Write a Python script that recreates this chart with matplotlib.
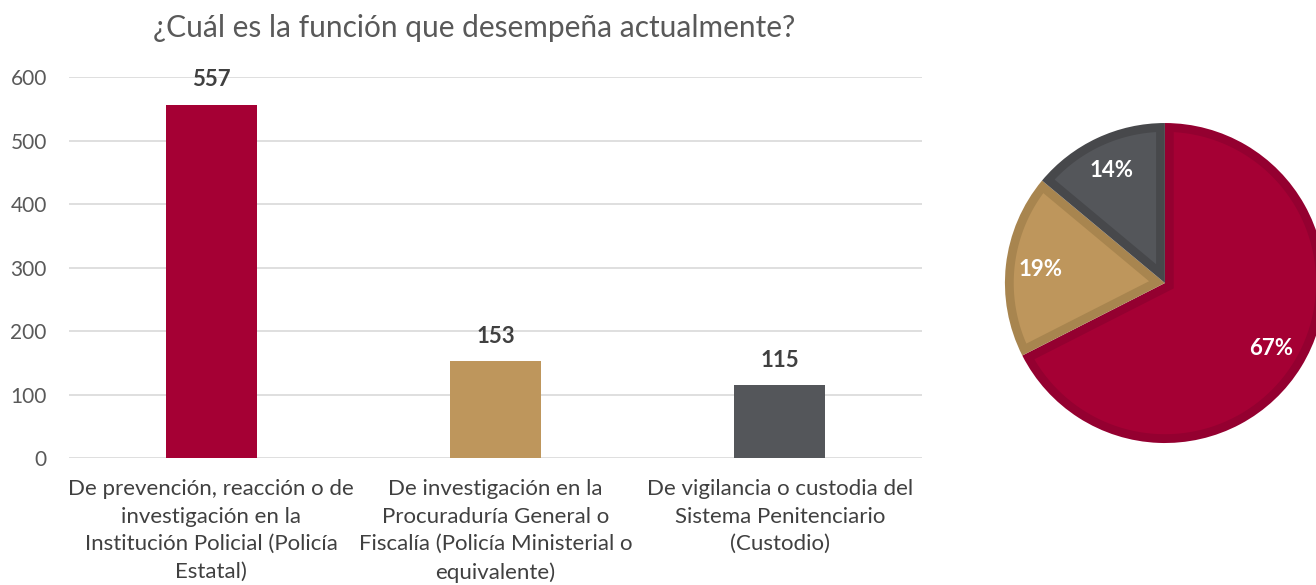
import matplotlib.pyplot as plt
from matplotlib.patches import Polygon
import numpy as np

# data
categories = [
    "De prevención, reacción o de\ninvestigación en la\nInstitución Policial (Policía\nEstatal)",
    "De investigación en la\nProcuraduría General o\nFiscalía (Policía Ministerial o\nequivalente)",
    "De vigilancia o custodia del\nSistema Penitenciario\n(Custodio)",
]
counts = [557, 153, 115]
pct_labels = ["67%", "19%", "14%"]
yticks = [0, 100, 200, 300, 400, 500, 600]

colors = ["#A50034", "#BE965C", "#54565A"]
edge_colors = ["#940030", "#A8854F", "#47484B"]

plt.rcParams['font.family'] = ['Lato', 'DejaVu Sans']


def inset_wedge(theta1, theta2, d, r=1.0):
    """Polygon of a wedge shrunk inwards by d on every side (angles in degrees)."""
    half = np.radians(theta2 - theta1) / 2
    mid = np.radians(theta1) + half
    apex = np.array([np.cos(mid), np.sin(mid)]) * d / np.sin(half)
    rin = r - d
    pts = [apex]
    hits = []
    for th in (theta1, theta2):
        u = np.array([np.cos(np.radians(th)), np.sin(np.radians(th))])
        b = apex @ u
        t = -b + np.sqrt(b * b - apex @ apex + rin * rin)
        hits.append(apex + t * u)
    a1 = np.arctan2(hits[0][1], hits[0][0])
    a2 = np.arctan2(hits[1][1], hits[1][0])
    while a2 < a1:
        a2 += 2 * np.pi
    arc = np.linspace(a1, a2, 100)
    pts += list(np.column_stack([rin * np.cos(arc), rin * np.sin(arc)]))
    return np.array(pts)


fig = plt.figure(figsize=(13.16, 5.85), dpi=100)

# bar chart
ax = fig.add_axes([0.0525, 0.217, 0.648, 0.651])
x = np.arange(len(counts))
ax.bar(x, counts, width=0.32, color=colors, zorder=3)
for xi, v in zip(x, counts):
    ax.text(xi, v + 39, str(v), ha='center', va='center', fontsize=16,
            fontweight='bold', color='#404040')
ax.set_xlim(-0.5, 2.5)
ax.set_ylim(0, 600)
ax.set_yticks(yticks)
ax.set_yticklabels([str(t) for t in yticks], fontsize=15, color='#595959')
ax.set_xticks(x)
ax.set_xticklabels(categories, fontsize=16, color='#404040', linespacing=1.48)
ax.tick_params(length=0)
ax.tick_params(axis='x', pad=15)
ax.tick_params(axis='y', pad=16)
ax.grid(axis='y', color='#D9D9D9', lw=1.2, zorder=0)
for s in ax.spines.values():
    s.set_visible(False)

fig.text(0.36, 0.952, "¿Cuál es la función que desempeña actualmente?",
         ha='center', va='center', fontsize=21.5, color='#595959')

# pie chart
pax = fig.add_axes([0.7636, 0.2427, 0.2432, 0.547])
wedges, texts = pax.pie(counts, colors=edge_colors, startangle=90, counterclock=False,
                        labels=pct_labels, labeldistance=0.78,
                        textprops=dict(color='white', fontsize=16, fontweight='bold',
                                       zorder=5))
for w, c in zip(wedges, colors):
    pax.add_patch(Polygon(inset_wedge(w.theta1, w.theta2, 0.055), closed=True,
                          facecolor=c, edgecolor='none', zorder=2))
for t in texts:
    t.set_ha('center')
    t.set_va('center')
pax.set_xlim(-1, 1)
pax.set_ylim(-1, 1)
pax.set_aspect('equal')

fig.savefig('out.png', dpi=100)
